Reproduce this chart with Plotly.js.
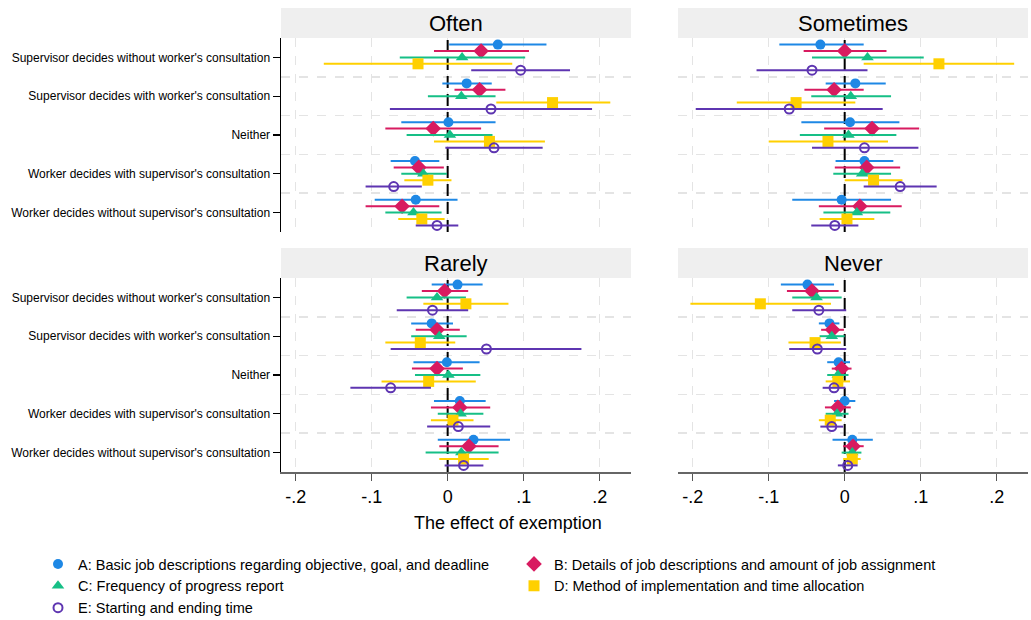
<!DOCTYPE html>
<html>
<head>
<meta charset="utf-8">
<script src="https://cdn.plot.ly/plotly-3.0.1.min.js"></script>
<style>html,body{margin:0;padding:0;background:#fff;}#chart{width:1031px;height:620px;}</style>
</head>
<body>
<div id="chart"></div>
<script>
// ---- Data ----
const categories = [
  "Supervisor decides without worker's consultation",
  "Supervisor decides with worker's consultation",
  "Neither",
  "Worker decides with supervisor's consultation",
  "Worker decides without supervisor's consultation"
];
const panelTitles = ["Often", "Sometimes", "Rarely", "Never"];
const seriesNames = [
  "A: Basic job descriptions regarding objective, goal, and deadline",
  "B: Details of job descriptions and amount of job assignment",
  "C: Frequency of progress report",
  "D: Method of implementation and time allocation",
  "E: Starting and ending time"
];
const xTickVals = [-0.2, -0.1, 0, 0.1, 0.2];
const xTickText = ["-.2", "-.1", "0", ".1", ".2"];
const referenceX = 0;

// rows: series A..E ; columns: categories (top to bottom)
const often_est = [
  [0.066, 0.025, 0.001, -0.043, -0.042],
  [0.044, 0.042, -0.019, -0.038, -0.060],
  [0.019, 0.018, 0.003, -0.032, -0.045],
  [-0.039, 0.138, 0.055, -0.026, -0.034],
  [0.096, 0.057, 0.061, -0.071, -0.014]
];
const often_lo = [
  [0.002, -0.007, -0.061, -0.075, -0.096],
  [-0.018, 0.009, -0.082, -0.071, -0.108],
  [-0.063, -0.026, -0.054, -0.061, -0.082],
  [-0.163, 0.064, -0.018, -0.057, -0.065],
  [0.031, -0.076, -0.003, -0.108, -0.042]
];
const often_hi = [
  [0.130, 0.058, 0.063, -0.011, 0.013],
  [0.107, 0.076, 0.044, -0.005, -0.011],
  [0.102, 0.063, 0.059, -0.001, -0.008],
  [0.085, 0.214, 0.128, 0.005, -0.004],
  [0.161, 0.190, 0.125, -0.034, 0.014]
];

const sometimes_est = [
  [-0.032, 0.014, 0.007, 0.026, -0.004],
  [0.000, -0.014, 0.036, 0.029, 0.020],
  [0.030, 0.008, 0.005, 0.023, 0.016],
  [0.124, -0.064, -0.022, 0.038, 0.003],
  [-0.043, -0.073, 0.026, 0.073, -0.013]
];
const sometimes_lo = [
  [-0.086, -0.025, -0.057, -0.012, -0.069],
  [-0.054, -0.053, -0.027, -0.013, -0.034],
  [-0.043, -0.044, -0.059, -0.015, -0.028],
  [0.025, -0.142, -0.100, 0.000, -0.033],
  [-0.116, -0.196, -0.043, 0.025, -0.044]
];
const sometimes_hi = [
  [0.025, 0.054, 0.072, 0.064, 0.061],
  [0.055, 0.025, 0.098, 0.073, 0.075],
  [0.104, 0.061, 0.068, 0.061, 0.060],
  [0.223, 0.014, 0.057, 0.076, 0.039],
  [0.030, 0.050, 0.097, 0.121, 0.018]
];

const rarely_est = [
  [0.013, -0.021, -0.001, 0.016, 0.034],
  [-0.004, -0.014, -0.014, 0.016, 0.028],
  [-0.014, -0.011, 0.001, 0.017, 0.018],
  [0.024, -0.036, -0.025, 0.007, 0.021],
  [-0.020, 0.051, -0.075, 0.014, 0.021]
];
const rarely_lo = [
  [-0.021, -0.048, -0.045, -0.018, -0.013],
  [-0.034, -0.042, -0.047, -0.022, -0.011],
  [-0.054, -0.048, -0.043, -0.013, -0.029],
  [-0.032, -0.082, -0.087, -0.022, -0.011],
  [-0.067, -0.075, -0.128, -0.027, -0.004]
];
const rarely_hi = [
  [0.046, 0.007, 0.042, 0.050, 0.082],
  [0.027, 0.016, 0.020, 0.056, 0.067],
  [0.024, 0.025, 0.043, 0.047, 0.067],
  [0.080, 0.010, 0.037, 0.034, 0.054],
  [0.027, 0.176, -0.022, 0.056, 0.047]
];

const never_est = [
  [-0.049, -0.020, -0.008, 0.000, 0.010],
  [-0.043, -0.016, -0.004, -0.009, 0.011],
  [-0.037, -0.017, -0.009, -0.010, 0.010],
  [-0.111, -0.039, -0.009, -0.019, 0.010],
  [-0.034, -0.036, -0.014, -0.017, 0.004]
];
const never_lo = [
  [-0.084, -0.034, -0.023, -0.014, -0.016],
  [-0.076, -0.031, -0.017, -0.026, -0.002],
  [-0.069, -0.033, -0.023, -0.025, -0.004],
  [-0.203, -0.074, -0.025, -0.034, -0.002],
  [-0.069, -0.073, -0.029, -0.032, -0.009]
];
const never_hi = [
  [-0.014, -0.007, 0.007, 0.014, 0.037],
  [-0.008, -0.001, 0.009, 0.008, 0.025],
  [-0.004, 0.000, 0.005, 0.005, 0.022],
  [-0.018, -0.005, 0.007, -0.004, 0.021],
  [0.002, 0.002, 0.001, -0.002, 0.017]
];

// ---- Styles ----
const colors = ["#1E88E5", "#D81B60", "#16BF86", "#FFD000", "#5E35B1"];
const symbols = ["circle", "diamond", "triangle-up", "square", "circle-open"];
const sizes = [10, 12, 11, 11, 9];
const offsets = [-0.33, -0.165, 0, 0.165, 0.33];
const legendOf = ["legend", "legend2", "legend", "legend2", "legend"];

const panels = [
  {est: often_est, lo: often_lo, hi: often_hi, xa: "x", ya: "y"},
  {est: sometimes_est, lo: sometimes_lo, hi: sometimes_hi, xa: "x2", ya: "y2"},
  {est: rarely_est, lo: rarely_lo, hi: rarely_hi, xa: "x3", ya: "y3"},
  {est: never_est, lo: never_lo, hi: never_hi, xa: "x4", ya: "y4"}
];

const xr = [-0.2193, 0.2412];
const yr = [5.5, 0.5];

const traces = [];
// reference line at zero, drawn first so it sits under the estimates
panels.forEach((p) => {
  traces.push({
    type: "scatter", mode: "lines",
    x: [referenceX, referenceX], y: yr,
    xaxis: p.xa, yaxis: p.ya, showlegend: false, hoverinfo: "skip",
    line: {color: "#000", width: 2, dash: "12px,6px"}
  });
});
panels.forEach((p, pi) => {
  for (let s = 0; s < 5; s++) {
    const ys = categories.map((c, i) => i + 1 + offsets[s]);
    traces.push({
      type: "scatter", mode: "markers",
      x: p.est[s], y: ys,
      xaxis: p.xa, yaxis: p.ya,
      name: seriesNames[s], legendgroup: "s" + s,
      legend: legendOf[s],
      showlegend: pi === 0,
      marker: {
        symbol: symbols[s], size: sizes[s], color: colors[s],
        line: {color: colors[s], width: s === 4 ? 2 : 0}
      },
      error_x: {
        type: "data", symmetric: false,
        array: p.hi[s].map((h, i) => h - p.est[s][i]),
        arrayminus: p.est[s].map((e, i) => e - p.lo[s][i]),
        color: colors[s], thickness: 2, width: 0
      },
      hoverinfo: "x+name"
    });
  }
});

const gridCol = "#e4e4e4";
const fontFam = "Liberation Sans, Arial, sans-serif";

function xaxisDef(domain, anchor, bottom) {
  return {
    domain: domain, anchor: anchor, range: xr,
    tickmode: "array", tickvals: xTickVals, ticktext: xTickText,
    showticklabels: bottom, ticks: bottom ? "outside" : "", ticklen: 7, tickwidth: 1.2, tickcolor: "#555",
    showline: bottom, linecolor: "#666", linewidth: 2,
    showgrid: true, gridcolor: gridCol, gridwidth: 1.5, griddash: "dash",
    zeroline: false, tickfont: {size: 18, color: "#000"}, fixedrange: true
  };
}
function yaxisDef(domain, anchor, left) {
  return {
    domain: domain, anchor: anchor, range: yr,
    tickmode: "array", tickvals: [1, 2, 3, 4, 5], ticktext: categories,
    showticklabels: left, ticks: left ? "outside" : "", ticklen: 7, tickwidth: 1.2, tickcolor: "#000",
    showline: left, linecolor: "#000", linewidth: 1.5,
    showgrid: false, zeroline: false,
    minor: {tickmode: "array", tickvals: [1.5, 2.5, 3.5, 4.5], showgrid: true, gridcolor: gridCol, gridwidth: 1.5, griddash: "dash", ticks: ""},
    tickfont: {size: 12, color: "#000"}, fixedrange: true
  };
}

const xL = [0, 0.4685], xR = [0.5315, 1];
const yT = [0.553, 1], yB = [0, 0.447];
const stripH = 30 / 194;

const shapes = [];
const annotations = [];
const refs = [["x", "y"], ["x2", "y2"], ["x3", "y3"], ["x4", "y4"]];
refs.forEach((r, i) => {
  shapes.push({
    type: "rect", xref: r[0] + " domain", yref: r[1] + " domain",
    x0: 0, x1: 1, y0: 1, y1: 1 + stripH,
    fillcolor: "#efefef", line: {width: 0}, layer: "below"
  });
  annotations.push({
    text: panelTitles[i], xref: r[0] + " domain", yref: r[1] + " domain",
    x: 0.5, y: 1 + stripH / 2, xanchor: "center", yanchor: "middle",
    showarrow: false, font: {size: 22, color: "#000"}
  });
});
annotations.push({
  text: "The effect of exemption", xref: "paper", yref: "paper",
  x: 0.304, y: -0.1175, xanchor: "center", yanchor: "middle",
  showarrow: false, font: {size: 18, color: "#000"}
});

const legendCommon = {
  orientation: "v", xanchor: "left", yanchor: "top",
  xref: "container", yref: "container",
  font: {size: 14.5, color: "#000"}, traceorder: "normal",
  itemwidth: 30, tracegroupgap: 4, bgcolor: "rgba(0,0,0,0)"
};

const layout = {
  width: 1031, height: 620,
  margin: {l: 281, r: 3, t: 38, b: 148, autoexpand: false},
  paper_bgcolor: "#fff", plot_bgcolor: "#fff",
  font: {family: fontFam, color: "#000"},
  showlegend: true,
  legend: Object.assign({}, legendCommon, {x: 38 / 1031, y: 1 - 548 / 620}),
  legend2: Object.assign({}, legendCommon, {x: 514 / 1031, y: 1 - 548 / 620}),
  xaxis: xaxisDef(xL, "y", false),
  yaxis: yaxisDef(yT, "x", true),
  xaxis2: xaxisDef(xR, "y2", false),
  yaxis2: yaxisDef(yT, "x2", false),
  xaxis3: xaxisDef(xL, "y3", true),
  yaxis3: yaxisDef(yB, "x3", true),
  xaxis4: xaxisDef(xR, "y4", true),
  yaxis4: yaxisDef(yB, "x4", false),
  shapes: shapes,
  annotations: annotations
};

Plotly.newPlot("chart", traces, layout, {displayModeBar: false, staticPlot: true});
</script>
</body>
</html>
